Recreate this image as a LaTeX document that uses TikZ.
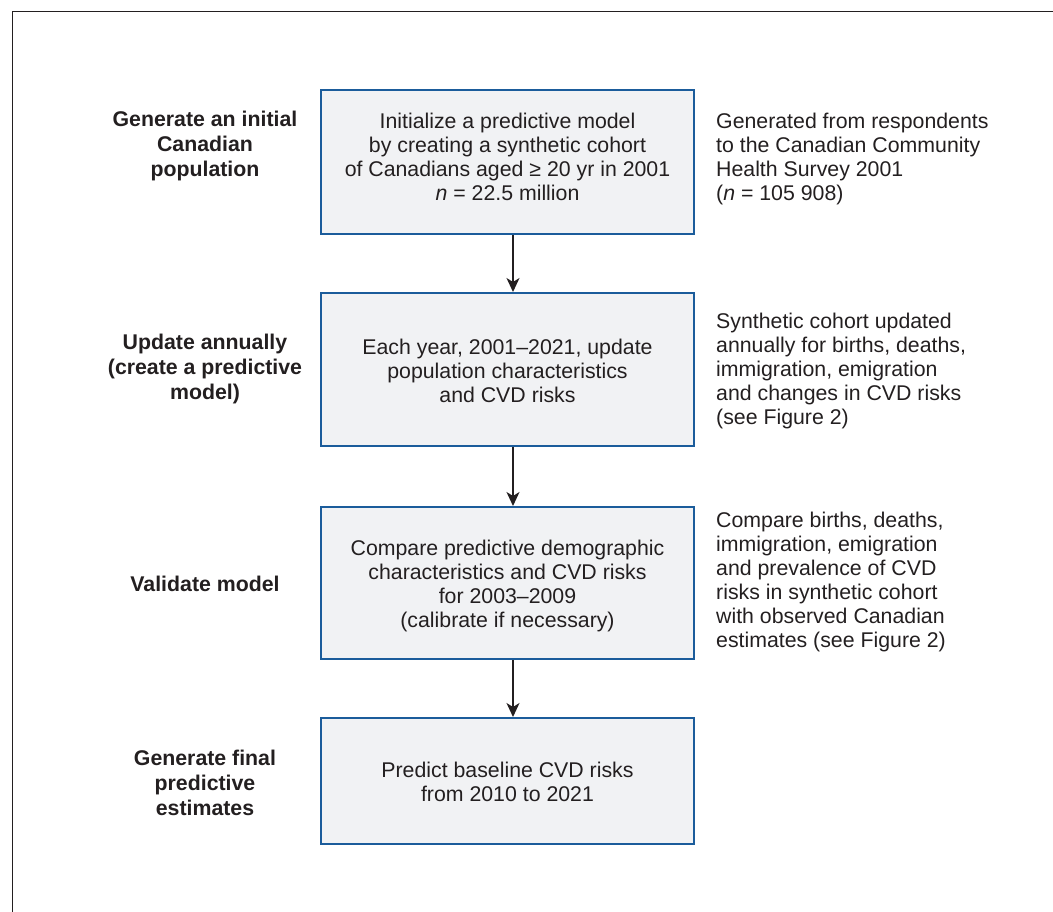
\documentclass[tikz,border=0pt]{standalone}
\usepackage{fontspec}
\setmainfont{Liberation Sans}
\usetikzlibrary{arrows.meta}
\definecolor{boxfill}{HTML}{F1F2F4}
\definecolor{boxline}{HTML}{1B5C9B}
\definecolor{ink}{HTML}{231F20}
\begin{document}
\begin{tikzpicture}[x=1pt,y=-1pt,
  every node/.style={text=ink, font=\fontsize{21.3}{24}\selectfont},
  stepbox/.style={draw=boxline, fill=boxfill, line width=2pt, minimum width=373pt, inner sep=0pt},
  boxtext/.style={align=center, inner sep=0pt},
  leftlab/.style={font=\fontsize{21.3}{25}\selectfont\bfseries, align=center, inner sep=0pt},
  rightlab/.style={align=left, anchor=base west, inner sep=0pt},
  arr/.style={draw=ink, line width=1.6pt, -{Stealth[length=14pt,width=13pt,inset=4pt]}}
]
\useasboundingbox (0,0) rectangle (1053,912);
\draw[ink, line width=1pt] (12,912) -- (12,12) -- (1053,12);

\node[stepbox, minimum height=144pt] (b1) at (507.5,162) {};
\node[stepbox, minimum height=153pt] (b2) at (507.5,369.5) {};
\node[stepbox, minimum height=152pt] (b3) at (507.5,583) {};
\node[stepbox, minimum height=126pt] (b4) at (507.5,781) {};

\node[boxtext] (t1) at (507.5,157) {Initialize a predictive model\\by creating a synthetic cohort\\of Canadians aged ≥ 20 yr in 2001\\\textit{n} = 22.5 million};
\node[boxtext] (t2) at (507.5,371) {Each year, 2001–2021, update\\population characteristics\\and CVD risks};
\node[boxtext] (t3) at (507.5,586) {Compare predictive demographic\\characteristics and CVD risks\\for 2003–2009\\(calibrate if necessary)};
\node[boxtext] (t4) at (507.5,782) {Predict baseline CVD risks\\from 2010 to 2021};

\draw[arr] ([xshift=5.5pt]b1.south) -- ([xshift=5.5pt]b2.north);
\draw[arr] ([xshift=5.5pt]b2.south) -- ([xshift=5.5pt]b3.north);
\draw[arr] ([xshift=5.5pt]b3.south) -- ([xshift=5.5pt]b4.north);

\node[leftlab] (l1) at (205,146) {Generate an initial\\Canadian\\population};
\node[leftlab] (l2) at (205,369) {Update annually\\(create a predictive\\model)};
\node[leftlab] (l3) at (205,584) {Validate model};
\node[leftlab] (l4) at (205,783) {Generate final\\predictive\\estimates};

\node[rightlab] (r1) at (716,201) {Generated from respondents\\to the Canadian Community\\Health Survey 2001\\(\textit{n} = 105 908)};
\node[rightlab] (r2) at (716,424) {Synthetic cohort updated\\annually for births, deaths,\\immigration, emigration\\and changes in CVD risks\\(see Figure 2)};
\node[rightlab] (r3) at (716,647) {Compare births, deaths,\\immigration, emigration\\and prevalence of CVD\\risks in synthetic cohort\\with observed Canadian\\estimates (see Figure 2)};
\end{tikzpicture}
\end{document}
